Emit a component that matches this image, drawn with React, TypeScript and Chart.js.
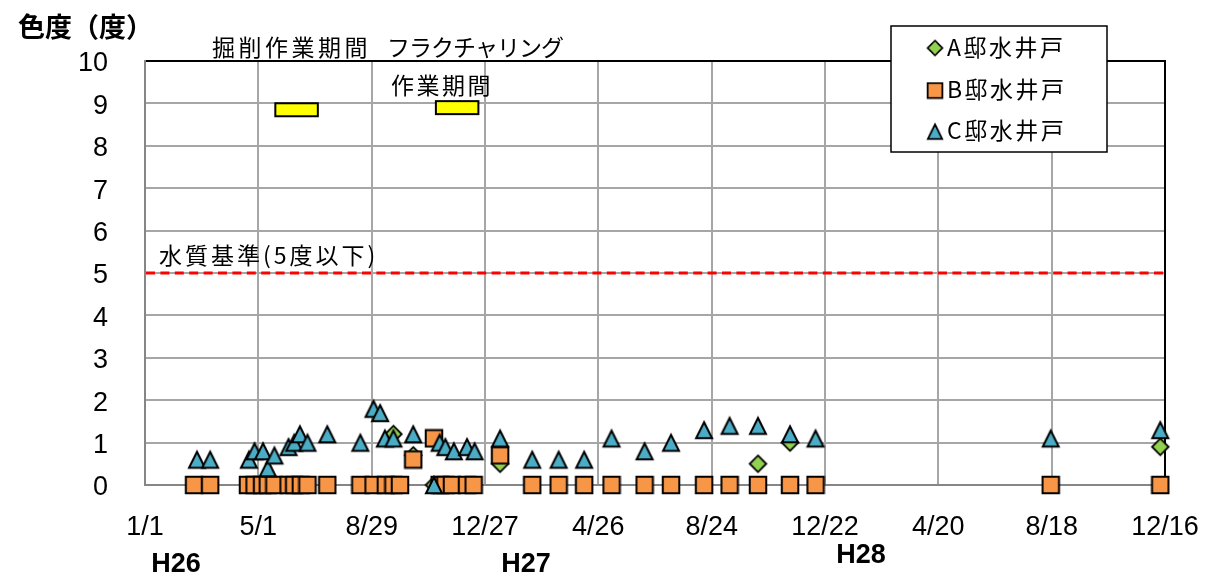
import React, { useEffect, useRef } from 'react';
import { Chart, registerables } from 'chart.js';

Chart.register(...registerables);

// ---------- data ----------
const BASE_DATE = '2014-01-01';
const X_MIN_DAY = 0;
const X_MAX_DAY = 1080;
const X_STEP_DAYS = 120;
const X_TICK_LABELS = ['1/1', '5/1', '8/29', '12/27', '4/26', '8/24', '12/22', '4/20', '8/18', '12/16'];
const ERA_LABELS = ['H26', 'H27', 'H28'];
const Y_MIN = 0;
const Y_MAX = 10;
const Y_STEP = 1;
const Y_TITLE = '色度（度）';

const SERIES_NAMES = ['A邸水井戸', 'B邸水井戸', 'C邸水井戸'];

const A_DATES = ['2014-09-21', '2014-10-12', '2014-11-03', '2015-01-12', '2015-10-12', '2015-11-15', '2016-12-11'];
const A_VALUES = [1.2, 0.7, 0, 0.5, 0.5, 1.0, 0.9];

const B_DATES = [
  '2014-02-22', '2014-03-11', '2014-04-20', '2014-04-27', '2014-05-05', '2014-05-11', '2014-05-18',
  '2014-06-02', '2014-06-08', '2014-06-15', '2014-06-22', '2014-07-13', '2014-08-17', '2014-08-31',
  '2014-09-13', '2014-09-21', '2014-09-28', '2014-10-12', '2014-11-03', '2014-11-09', '2014-11-15',
  '2014-11-22', '2014-12-08', '2014-12-15', '2015-01-12', '2015-02-15', '2015-03-15', '2015-04-11',
  '2015-05-10', '2015-06-14', '2015-07-12', '2015-08-16', '2015-09-12', '2015-10-12', '2015-11-15',
  '2015-12-12', '2016-08-17', '2016-12-11',
];
const B_VALUES = [
  0, 0, 0, 0, 0, 0, 0,
  0, 0, 0, 0, 0, 0, 0,
  0, 0, 0, 0.6, 1.1, 0, 0,
  0, 0, 0, 0.7, 0, 0, 0,
  0, 0, 0, 0, 0, 0, 0,
  0, 0, 0,
];

const C_DATES = [
  '2014-02-25', '2014-03-11', '2014-04-21', '2014-04-27', '2014-05-06', '2014-05-11', '2014-05-18',
  '2014-06-02', '2014-06-08', '2014-06-14', '2014-06-22', '2014-07-13', '2014-08-17', '2014-08-31',
  '2014-09-07', '2014-09-12', '2014-09-21', '2014-10-12', '2014-11-03', '2014-11-09', '2014-11-15',
  '2014-11-24', '2014-12-08', '2014-12-16', '2015-01-12', '2015-02-15', '2015-03-15', '2015-04-11',
  '2015-05-10', '2015-06-14', '2015-07-12', '2015-08-16', '2015-09-12', '2015-10-12', '2015-11-15',
  '2015-12-12', '2016-08-17', '2016-12-11',
];
const C_VALUES = [
  0.6, 0.6, 0.6, 0.8, 0.8, 0.4, 0.7,
  0.9, 1.0, 1.2, 1.0, 1.2, 1.0, 1.8,
  1.7, 1.1, 1.1, 1.2, 0, 1.0, 0.9,
  0.8, 0.9, 0.8, 1.1, 0.6, 0.6, 0.6,
  1.1, 0.8, 1.0, 1.3, 1.4, 1.4, 1.2,
  1.1, 1.1, 1.3,
];

const WATER_STANDARD = 5;
const WATER_STANDARD_LABEL = '水質基準(5度以下)';

const WORK_START = ['2014-05-19', '2014-11-05'];
const WORK_END = ['2014-07-03', '2014-12-20'];
const WORK_LEVEL = [8.85, 8.9];
const WORK_LABEL_1 = '掘削作業期間';
const WORK_LABEL_2A = 'フラクチャリング';
const WORK_LABEL_2B = '作業期間';

// ---------- helpers ----------
const DAY_MS = 86400000;
const dayOf = (s: string) =>
  Math.round((Date.parse(s + 'T00:00:00Z') - Date.parse(BASE_DATE + 'T00:00:00Z')) / DAY_MS);

const COLOR_A = '#92D050';
const COLOR_B = '#F79646';
const COLOR_C = '#4BACC6';

function makeMarker(kind: string, fill: string): HTMLCanvasElement {
  const c = document.createElement('canvas');
  const ctx = c.getContext('2d') as CanvasRenderingContext2D;
  if (kind === 'diamond') {
    c.width = 21; c.height = 21;
    ctx.beginPath();
    ctx.moveTo(10.5, 2.2);
    ctx.lineTo(18.8, 10.5);
    ctx.lineTo(10.5, 18.8);
    ctx.lineTo(2.2, 10.5);
    ctx.closePath();
    ctx.lineWidth = 1.8;
  } else if (kind === 'square') {
    c.width = 20; c.height = 20;
    ctx.beginPath();
    ctx.rect(1.75, 1.75, 16.5, 16.5);
    ctx.lineWidth = 2;
  } else {
    c.width = 22; c.height = 22;
    ctx.beginPath();
    ctx.moveTo(11, 3.3);
    ctx.lineTo(19, 19.3);
    ctx.lineTo(3, 19.3);
    ctx.closePath();
    ctx.lineWidth = 2;
  }
  ctx.fillStyle = fill;
  ctx.fill();
  ctx.strokeStyle = '#000';
  ctx.lineJoin = 'miter';
  ctx.stroke();
  return c;
}

function drawText(ctx: any, text: string, x: number, y: number, font: string, spacing: number, align: string = 'left') {
  ctx.save();
  ctx.font = font;
  ctx.fillStyle = '#000';
  ctx.textBaseline = 'middle';
  ctx.textAlign = align;
  try { ctx.letterSpacing = spacing + 'px'; } catch (e) { /* ignore */ }
  ctx.fillText(text, x, y);
  ctx.restore();
}

export default function App() {
  const ref = useRef<HTMLCanvasElement | null>(null);

  useEffect(() => {
    if (!ref.current) return;
    const diamond = makeMarker('diamond', COLOR_A);
    const square = makeMarker('square', COLOR_B);
    const triangle = makeMarker('triangle', COLOR_C);

    const overlay = {
      id: 'overlay',
      beforeDatasetsDraw(chart: any) {
        const { ctx, chartArea } = chart;
        const xs = chart.scales.x;
        const ys = chart.scales.y;
        ctx.save();
        // plot border top / right
        ctx.strokeStyle = '#000';
        ctx.lineWidth = 2;
        ctx.beginPath();
        ctx.moveTo(chartArea.left + 1, chartArea.top);
        ctx.lineTo(chartArea.right, chartArea.top);
        ctx.lineTo(chartArea.right, chartArea.bottom);
        ctx.stroke();
        // water quality standard line
        const yStd = ys.getPixelForValue(WATER_STANDARD);
        ctx.strokeStyle = '#FF0000';
        ctx.lineWidth = 3;
        ctx.setLineDash([9, 5.4]);
        ctx.beginPath();
        ctx.moveTo(chartArea.left + 1, yStd);
        ctx.lineTo(chartArea.right, yStd);
        ctx.stroke();
        ctx.setLineDash([]);
        // work periods
        for (let i = 0; i < WORK_START.length; i++) {
          const x1 = xs.getPixelForValue(dayOf(WORK_START[i]));
          const x2 = xs.getPixelForValue(dayOf(WORK_END[i]));
          const yc = ys.getPixelForValue(WORK_LEVEL[i]);
          ctx.fillStyle = '#FFFF00';
          ctx.fillRect(x1, yc - 6.5, x2 - x1, 13);
          ctx.strokeStyle = '#000';
          ctx.lineWidth = 2;
          ctx.strokeRect(x1, yc - 6.5, x2 - x1, 13);
        }
        ctx.restore();

        // annotation texts
        drawText(ctx, WORK_LABEL_1, 212, 47, '23px "Noto Sans CJK JP"', 3.5);
        drawText(ctx, WORK_LABEL_2A, 387, 47, '23px "Noto Sans CJK JP"', -1);
        drawText(ctx, WORK_LABEL_2B, 391, 85, '23px "Noto Sans CJK JP"', 2.5);
        drawText(ctx, WATER_STANDARD_LABEL, 159, 255, '23px "Noto Sans CJK JP"', 3);
      },
      afterDraw(chart: any) {
        const { ctx } = chart;
        // title
        drawText(ctx, Y_TITLE, 18, 27, 'bold 27px "Noto Sans CJK JP"', 0);
        // era labels
        drawText(ctx, ERA_LABELS[0], 176, 565, 'bold 27px "Liberation Sans"', 0, 'center');
        drawText(ctx, ERA_LABELS[1], 526, 565, 'bold 27px "Liberation Sans"', 0, 'center');
        drawText(ctx, ERA_LABELS[2], 861, 556, 'bold 27px "Liberation Sans"', 0, 'center');
        // legend box
        ctx.save();
        ctx.fillStyle = '#fff';
        ctx.fillRect(891, 26, 216, 126);
        ctx.strokeStyle = '#000';
        ctx.lineWidth = 1.5;
        ctx.strokeRect(891, 26, 216, 126);
        const markers = [diamond, square, triangle];
        const rowsY = [48, 90.5, 131.5];
        for (let i = 0; i < 3; i++) {
          const m = markers[i];
          const s = 0.9;
          ctx.drawImage(m, 935 - (m.width * s) / 2, rowsY[i] - (m.height * s) / 2, m.width * s, m.height * s);
          drawText(ctx, SERIES_NAMES[i], 947, rowsY[i] - 1, '23px "Noto Sans CJK JP"', 2.5);
        }
        ctx.restore();
      },
    };

    const chart = new Chart(ref.current, {
      type: 'scatter',
      data: {
        datasets: [
          {
            label: SERIES_NAMES[0],
            data: A_DATES.map((d, i) => ({ x: dayOf(d), y: A_VALUES[i] })),
            pointStyle: diamond as any,
            pointRadius: 10,
            order: 3,
            clip: false as any,
          },
          {
            label: SERIES_NAMES[1],
            data: B_DATES.map((d, i) => ({ x: dayOf(d), y: B_VALUES[i] })),
            pointStyle: square as any,
            pointRadius: 10,
            order: 2,
            clip: false as any,
          },
          {
            label: SERIES_NAMES[2],
            data: C_DATES.map((d, i) => ({ x: dayOf(d), y: C_VALUES[i] })),
            pointStyle: triangle as any,
            pointRadius: 10,
            order: 1,
            clip: false as any,
          },
        ],
      },
      options: {
        responsive: false,
        animation: false,
        events: [],
        devicePixelRatio: 1,
        layout: { padding: { left: 0, right: 40, top: 61, bottom: 0 } },
        plugins: {
          legend: { display: false },
          tooltip: { enabled: false },
        },
        scales: {
          x: {
            type: 'linear',
            min: X_MIN_DAY,
            max: X_MAX_DAY,
            afterFit: (s: any) => {
              s.height = 96;
              s.paddingLeft = 0;
              s.paddingRight = 0;
            },
            afterBuildTicks: (s: any) => {
              s.ticks = X_TICK_LABELS.map((_, i) => ({ value: X_MIN_DAY + i * X_STEP_DAYS }));
            },
            ticks: {
              autoSkip: false,
              maxRotation: 0,
              padding: 26,
              color: '#000',
              font: { family: '"Liberation Sans"', size: 27 },
              callback: (v: any) => X_TICK_LABELS[Math.round((Number(v) - X_MIN_DAY) / X_STEP_DAYS)] ?? '',
            },
            grid: { color: '#a6a6a6', lineWidth: 2, drawTicks: false },
            border: { color: '#868686', width: 2 },
          },
          y: {
            type: 'linear',
            min: Y_MIN,
            max: Y_MAX,
            afterFit: (s: any) => {
              s.width = 145;
              s.paddingTop = 0;
              s.paddingBottom = 0;
            },
            ticks: {
              stepSize: Y_STEP,
              padding: 37,
              labelOffset: 3,
              color: '#000',
              font: { family: '"Liberation Sans"', size: 27 },
            },
            grid: { color: '#a6a6a6', lineWidth: 2, drawTicks: false },
            border: { color: '#868686', width: 2 },
          },
        },
      },
      plugins: [overlay],
    } as any);

    return () => chart.destroy();
  }, []);

  return (
    <div style={{ position: 'absolute', left: 0, top: 0, width: 1205, height: 581, background: '#fff' }}>
      <canvas ref={ref} width={1205} height={581} style={{ display: 'block', width: 1205, height: 581 }} />
    </div>
  );
}
